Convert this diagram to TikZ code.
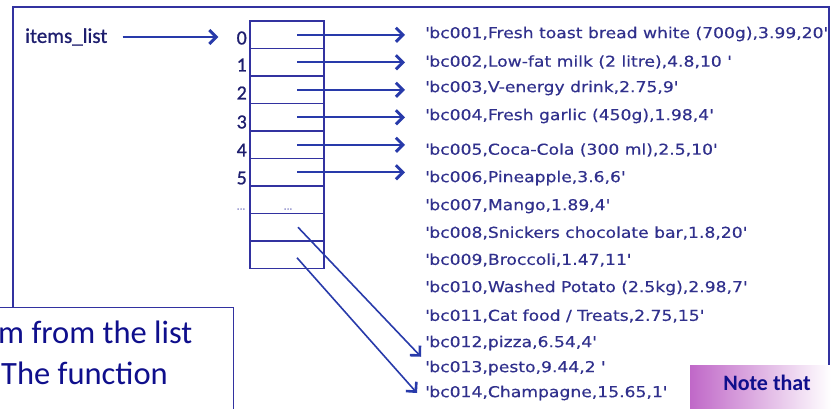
\documentclass[tikz,border=0pt]{standalone}
\usepackage{fontspec}
\setmainfont{Carlito}
\newfontfamily\listfont[FakeStretch=1.145,FakeBold=0.4]{DejaVu Sans}
\newfontfamily\labfont[FakeBold=0.8]{Carlito}
\usetikzlibrary{arrows.meta,calc}
\definecolor{framec}{RGB}{50,50,160}
\definecolor{arrc}{RGB}{40,58,170}
\definecolor{listc}{RGB}{48,48,140}
\definecolor{labc}{RGB}{30,30,110}
\definecolor{boxtext}{RGB}{15,15,140}
\definecolor{notepurple}{RGB}{192,104,200}
\newcommand\sq{\textquotesingle}
\begin{document}
\begin{tikzpicture}[x=1pt,y=-1pt,
  frame/.style={draw=framec,line width=1.3pt},
  cell/.style={draw=framec,line width=1.3pt,minimum width=74pt,minimum height=27.5pt,inner sep=0pt,outer sep=0pt,anchor=north west},
  item/.style={anchor=west,inner sep=0pt,text=listc,font=\listfont\fontsize{15}{17}\selectfont},
  idx/.style={anchor=east,inner sep=0pt,text=labc,font=\labfont\fontsize{20}{23}\selectfont},
  arr/.style={draw=arrc,line width=2pt,-{Straight Barb[length=7pt,width=14pt,line width=3pt]}},
  arrd/.style={draw=arrc,line width=1.6pt,-{Straight Barb[length=7pt,width=14pt,line width=2.6pt]}},
  dotsn/.style={inner sep=0pt,text=framec!75,font=\listfont\fontsize{8}{9}\selectfont},
  boxline/.style={anchor=base west,inner sep=0pt,text=boxtext,font=\fontsize{32.5}{40}\selectfont}
]
\useasboundingbox (0,0) rectangle (831,408);

% outer frame
\draw[frame] (13,307) -- (13,7) -- (829,7) -- (829,365);

% array cells
\foreach \k in {0,...,8} \node[cell] (cell\k) at (250,{21+27.5*\k}) {};

% index labels
\node[idx] (idx0) at (247,38) {0};
\node[idx] (idx1) at (247,65) {1};
\node[idx] (idx2) at (247,93) {2};
\node[idx] (idx3) at (247,122) {3};
\node[idx] (idx4) at (247,150) {4};
\node[idx] (idx5) at (247,178) {5};
\node[dotsn] (dotsL) at (241,209) {...};
\node[dotsn] (dotsC) at (288,209) {...};

% items_list
\node[anchor=west,inner sep=0pt,text=labc,font=\labfont\fontsize{21}{24}\selectfont] (items) at (25,37) {items\_list};

% list strings
\node[item] (item0) at (425,34) {\sq bc001,Fresh toast bread white (700g),3.99,20\sq};
\node[item] (item1) at (425,62) {\sq bc002,Low-fat milk (2 litre),4.8,10 \sq};
\node[item] (item2) at (425,88) {\sq bc003,V-energy drink,2.75,9\sq};
\node[item] (item3) at (425,116) {\sq bc004,Fresh garlic (450g),1.98,4\sq};
\node[item] (item4) at (425,150) {\sq bc005,Coca-Cola (300 ml),2.5,10\sq};
\node[item] (item5) at (425,178) {\sq bc006,Pineapple,3.6,6\sq};
\node[item] (item6) at (425,206) {\sq bc007,Mango,1.89,4\sq};
\node[item] (item7) at (425,233) {\sq bc008,Snickers chocolate bar,1.8,20\sq};
\node[item] (item8) at (425,260) {\sq bc009,Broccoli,1.47,11\sq};
\node[item] (item9) at (425,288) {\sq bc010,Washed Potato (2.5kg),2.98,7\sq};
\node[item] (item10) at (425,316) {\sq bc011,Cat food / Treats,2.75,15\sq};
\node[item] (item11) at (425,343) {\sq bc012,pizza,6.54,4\sq};
\node[item] (item12) at (425,368) {\sq bc013,pesto,9.44,2 \sq};
\node[item] (item13) at (425,393) {\sq bc014,Champagne,15.65,1\sq};

% arrows
\draw[arr] ($(items.east)+(15,0)$) -- ($(items.east -| idx0.west)+(-18,0)$);
\foreach \k in {0,...,5}
  \draw[arr] ($(cell\k.center)+(10,0)$) -- ($(cell\k.center -| item\k.west)+(-20,0)$);
\draw[arrd] ($(cell7.center)+(11,0)$) -- ($(item11.west)!0.55!(item12.west)+(-4,0)$);
\draw[arrd] ($(cell8.center)+(10,3)$) -- ($(item13.west)+(-8,0)$);

% bottom-left text box
\draw[draw=framec,line width=1pt,fill=white] (-5,307) rectangle (233,420);
\node[boxline] (boxl1) at (-2,343) {m from the list};
\node[boxline] (boxl2) at (1,384) {The function};

% note box
\shade[left color=notepurple,right color=white] (690,365) rectangle (831,412);
\node[inner sep=0pt,text=boxtext,font=\bfseries\fontsize{22}{26}\selectfont] (note) at (767,383) {Note that};
\end{tikzpicture}
\end{document}
